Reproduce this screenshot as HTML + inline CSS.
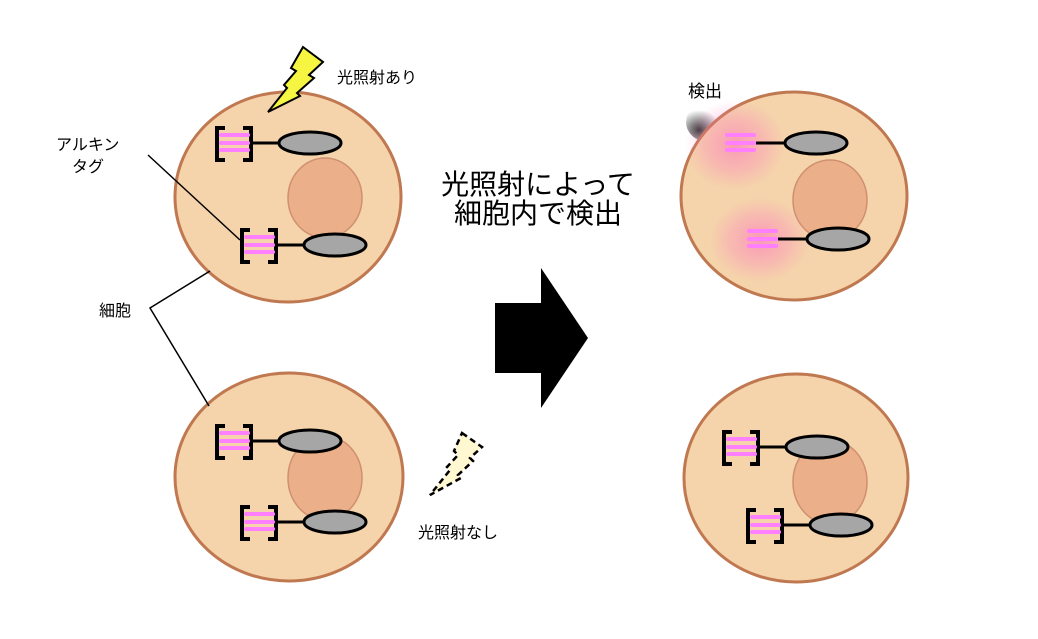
<!DOCTYPE html>
<html><head><meta charset="utf-8"><style>
html,body{margin:0;padding:0;background:#fff;}
svg text{font-family:"Liberation Sans","Noto Sans CJK JP",sans-serif;fill:#000;}
</style></head><body>
<svg width="1038" height="634" viewBox="0 0 1038 634" xmlns="http://www.w3.org/2000/svg">
<defs>
<g id="tag">
  <path d="M10,1 H2 V33 H10 M28,1 H36 V33 H28" fill="none" stroke="#000" stroke-width="4"/>
  <rect x="4" y="6" width="31" height="4" rx="2" fill="#ff80ff"/>
  <rect x="4" y="14" width="31" height="4" rx="2" fill="#ff80ff"/>
  <rect x="4" y="21" width="31" height="4" rx="2" fill="#ff80ff"/>
  <line x1="36" y1="16" x2="64" y2="16" stroke="#000" stroke-width="3"/>
  <ellipse cx="95" cy="16" rx="31" ry="11" fill="#a6a6a6" stroke="#000" stroke-width="3"/>
</g>
<g id="tagnb">
  <rect x="4" y="6" width="31" height="4" rx="2" fill="#ff80ff"/>
  <rect x="4" y="14" width="31" height="4" rx="2" fill="#ff80ff"/>
  <rect x="4" y="21" width="31" height="4" rx="2" fill="#ff80ff"/>
  <line x1="35" y1="16" x2="64" y2="16" stroke="#000" stroke-width="3"/>
  <ellipse cx="95" cy="16" rx="31" ry="11" fill="#a6a6a6" stroke="#000" stroke-width="3"/>
</g>
<radialGradient id="glow">
  <stop offset="0" stop-color="#ff60c0" stop-opacity="0.5"/>
  <stop offset="0.6" stop-color="#ff70c0" stop-opacity="0.25"/>
  <stop offset="1" stop-color="#ff80c0" stop-opacity="0"/>
</radialGradient>
<radialGradient id="dark" cx="0.3" cy="0.7">
  <stop offset="0" stop-color="#000" stop-opacity="0.8"/>
  <stop offset="1" stop-color="#000" stop-opacity="0"/>
</radialGradient>
</defs>

<ellipse cx="288" cy="197" rx="113" ry="105" fill="#f5d3ab" stroke="#c07850" stroke-width="3"/>
<ellipse cx="325" cy="198" rx="37" ry="40" fill="#ebb08a" stroke="#d09070" stroke-width="1.5"/>
<use href="#tag" x="215" y="127"/>
<use href="#tag" x="240" y="229"/>

<ellipse cx="289" cy="477" rx="114" ry="104" fill="#f5d3ab" stroke="#c07850" stroke-width="3"/>
<ellipse cx="325" cy="478" rx="37" ry="42" fill="#ebb08a" stroke="#d09070" stroke-width="1.5"/>
<use href="#tag" x="215" y="425"/>
<use href="#tag" x="240" y="506"/>

<ellipse cx="708" cy="122" rx="22" ry="20" fill="url(#dark)"/>
<ellipse cx="794" cy="196" rx="113" ry="104" fill="#f5d3ab" stroke="#c07850" stroke-width="3"/>
<ellipse cx="830" cy="200" rx="37" ry="40" fill="#ebb08a" stroke="#d09070" stroke-width="1.5"/>
<ellipse cx="735" cy="145" rx="50" ry="45" fill="url(#glow)"/>
<ellipse cx="760" cy="240" rx="50" ry="42" fill="url(#glow)"/>
<use href="#tagnb" x="721" y="127"/>
<use href="#tagnb" x="743" y="223"/>

<ellipse cx="796" cy="478" rx="112" ry="104" fill="#f5d3ab" stroke="#c07850" stroke-width="3"/>
<ellipse cx="830" cy="482" rx="37" ry="42" fill="#ebb08a" stroke="#d09070" stroke-width="1.5"/>
<use href="#tag" x="722" y="431"/>
<use href="#tag" x="746" y="509"/>

<polygon points="303,47 323,62 309,75 314,78 297,93 300,96 268,112 287,88 284,85 296,71 291,68" fill="#f5f542" stroke="#000" stroke-width="2"/>
<polygon points="462,433 482,447 470,458 473,461 458,475 461,478 430,495 450,470 447,467 458,455 454,451" fill="#fff8d0" stroke="#000" stroke-width="2.5" stroke-dasharray="6,4"/>

<polygon points="495,303 541,303 541,268 588,338 541,408 541,373 495,373" fill="#000"/>

<line x1="148" y1="155" x2="240" y2="240" stroke="#000" stroke-width="1.5"/>
<polyline points="210,271 150,308 209,406" fill="none" stroke="#000" stroke-width="1.5"/>

<text x="337" y="83" font-size="16">光照射あり</text>
<text x="418" y="538" font-size="16">光照射なし</text>
<text x="688" y="97" font-size="17">検出</text>
<text x="56" y="150" font-size="16">アルキン</text>
<text x="72" y="172" font-size="16">タグ</text>
<text x="99" y="316" font-size="16">細胞</text>
<text x="538" y="194" font-size="28" text-anchor="middle">光照射によって</text>
<text x="538" y="223" font-size="28" text-anchor="middle">細胞内で検出</text>
</svg>
</body></html>
